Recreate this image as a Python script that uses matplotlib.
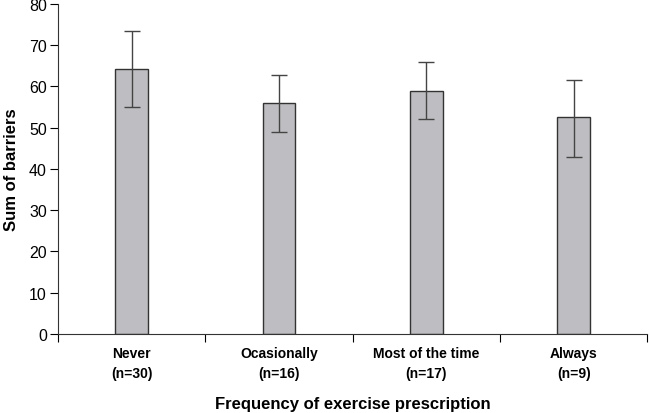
import matplotlib
matplotlib.use("Agg")
import matplotlib.pyplot as plt
import numpy as np

plt.rcParams['font.family'] = ['Liberation Sans', 'DejaVu Sans']

categories = ["Never\n(n=30)", "Ocasionally\n(n=16)", "Most of the time\n(n=17)", "Always\n(n=9)"]
means = [64.2, 56.0, 59.0, 52.5]
err_low = [55.0, 49.0, 52.0, 43.0]
err_high = [73.5, 62.8, 66.0, 61.5]

x = np.arange(len(categories))
yerr = [np.array(means) - np.array(err_low), np.array(err_high) - np.array(means)]

fig = plt.figure(figsize=(6.49, 4.14), dpi=100)
ax = fig.add_axes([0.0894, 0.191, 0.908, 0.797])

ax.bar(x, means, width=0.22, color="#bebec2", edgecolor="#333333", linewidth=1.0, zorder=2)
ax.errorbar(x, means, yerr=yerr, fmt="none", ecolor="#444444", elinewidth=1.0,
            capsize=6, capthick=1.0, zorder=3)

ax.set_xlim(-0.5, 3.5)
ax.set_ylim(0, 80)
ax.set_yticks(np.arange(0, 81, 10))
ax.tick_params(axis="y", labelsize=11.5, length=6, width=0.8, direction="out", pad=2)

ax.set_xticks(x)
ax.set_xticklabels(categories, fontsize=10, fontweight="bold", linespacing=1.5)
ax.tick_params(axis="x", which="major", length=0, pad=9)
ax.set_xticks(np.arange(-0.5, 3.6, 1.0), minor=True)
ax.tick_params(axis="x", which="minor", length=6, width=0.8, direction="out")

for s in ["top", "right"]:
    ax.spines[s].set_visible(False)
for s in ["left", "bottom"]:
    ax.spines[s].set_color("#333333")
    ax.spines[s].set_linewidth(0.8)

ax.set_ylabel("Sum of barriers", fontsize=12, fontweight="bold", labelpad=7)
ax.set_xlabel("Frequency of exercise prescription", fontsize=12, fontweight="bold", va="center")
ax.xaxis.set_label_coords(0.5, -0.21)

fig.savefig("out.png", dpi=100)
